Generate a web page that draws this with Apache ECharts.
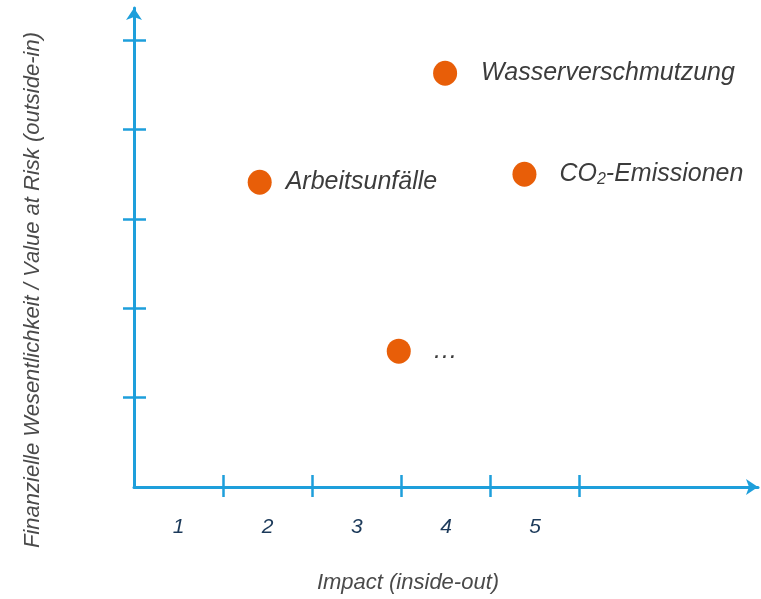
<!DOCTYPE html>
<html>
<head>
<meta charset="utf-8">
<script src="https://cdn.jsdelivr.net/npm/echarts@6/dist/echarts.min.js"></script>
<style>
  html, body { margin: 0; padding: 0; background: #fff; }
  #chart { width: 761px; height: 599px; }
</style>
</head>
<body>
<div id="chart"></div>
<script>
// Topics in the double materiality matrix
const topicNames = ['Wasserverschmutzung', 'Arbeitsunfälle', 'CO2-Emissionen', '…'];
const topicLabels = ['Wasserverschmutzung', 'Arbeitsunfälle', 'CO{sub|2}-Emissionen', '…'];
// Impact (inside-out) score per topic
const impactValues = [3.49, 1.41, 4.38, 2.97];
// Financial materiality (outside-in) score per topic
const financialValues = [4.63, 3.41, 3.50, 1.52];
// Tick labels shown between the ticks of the impact axis
const impactTickLabels = ['1', '2', '3', '4', '5'];
const scaleTicks = [1, 2, 3, 4, 5];

const FONT = "'Liberation Sans', Arial, sans-serif";
const AXIS_BLUE = '#1E9FDB';
const labelGaps = [24, 14, 23, 22];

const points = topicNames.map((name, i) => ({
  name: name,
  value: [impactValues[i], financialValues[i]],
  label: { distance: labelGaps[i] }
}));

const chart = echarts.init(document.getElementById('chart'), null, { renderer: 'canvas' });

const X_MAX = 7, Y_MAX = 5.36;

// Ticks cross the axis lines: one axis draws the outer half, a twin draws the inner half
const tickStyle = { color: AXIS_BLUE, width: 2.5 };

chart.setOption({
  animation: false,
  grid: { left: 134, right: 3, top: 8, bottom: 112, containLabel: false },
  xAxis: [
    {
      type: 'value', min: 0, max: X_MAX, interval: 1, position: 'bottom',
      axisLine: { show: true, symbol: ['none', 'arrow'], symbolSize: [12, 12],
        lineStyle: { color: AXIS_BLUE, width: 3 } },
      axisTick: { show: true, inside: false, length: 10, customValues: scaleTicks,
        lineStyle: tickStyle },
      axisLabel: {
        show: true, margin: 30,
        customValues: impactTickLabels.map((_, i) => i + 0.5),
        formatter: (v) => impactTickLabels[Math.round(v - 0.5)] || '',
        color: '#1C3A5A', fontSize: 21, fontStyle: 'italic', fontFamily: FONT
      },
      splitLine: { show: false }
    },
    {
      type: 'value', min: 0, max: X_MAX, interval: 1, position: 'bottom', offset: 0,
      axisLine: { show: false },
      axisTick: { show: true, inside: true, length: 12, customValues: scaleTicks,
        lineStyle: tickStyle },
      axisLabel: { show: false },
      splitLine: { show: false }
    }
  ],
  yAxis: [
    {
      type: 'value', min: 0, max: Y_MAX, interval: 1, position: 'left',
      axisLine: { show: true, symbol: ['none', 'arrow'], symbolSize: [12, 12],
        lineStyle: { color: AXIS_BLUE, width: 3 } },
      axisTick: { show: true, inside: false, length: 11, customValues: scaleTicks,
        lineStyle: tickStyle },
      axisLabel: { show: false },
      splitLine: { show: false }
    },
    {
      type: 'value', min: 0, max: Y_MAX, interval: 1, position: 'left', offset: 0,
      axisLine: { show: false },
      axisTick: { show: true, inside: true, length: 12, customValues: scaleTicks,
        lineStyle: tickStyle },
      axisLabel: { show: false },
      splitLine: { show: false }
    }
  ],
  series: [
    {
      type: 'scatter',
      xAxisIndex: 0, yAxisIndex: 0,
      symbol: 'circle',
      symbolSize: [24, 25],
      itemStyle: { color: '#E85E08', opacity: 1 },
      data: points,
      label: {
        show: true, position: 'right',
        formatter: (p) => topicLabels[p.dataIndex],
        color: '#3C3C3C', fontSize: 25, fontStyle: 'italic', fontFamily: FONT,
        rich: {
          sub: { fontSize: 16, fontStyle: 'italic', fontFamily: FONT, color: '#3C3C3C',
                 padding: [11, 0, 0, 0] }
        }
      }
    }
  ],
  graphic: [
    {
      type: 'text', z: 10, x: 408, y: 583,
      style: { text: 'Impact (inside-out)', fill: '#4A4A4A', font: 'italic 22px ' + FONT,
               align: 'center', verticalAlign: 'middle' }
    },
    {
      type: 'text', z: 10,
      x: 33, y: 290, rotation: Math.PI / 2,
      style: { text: 'Finanzielle Wesentlichkeit / Value at Risk (outside-in)',
               fill: '#4A4A4A', font: 'italic 22px ' + FONT,
               align: 'center', verticalAlign: 'middle' }
    }
  ]
});
</script>
</body>
</html>
